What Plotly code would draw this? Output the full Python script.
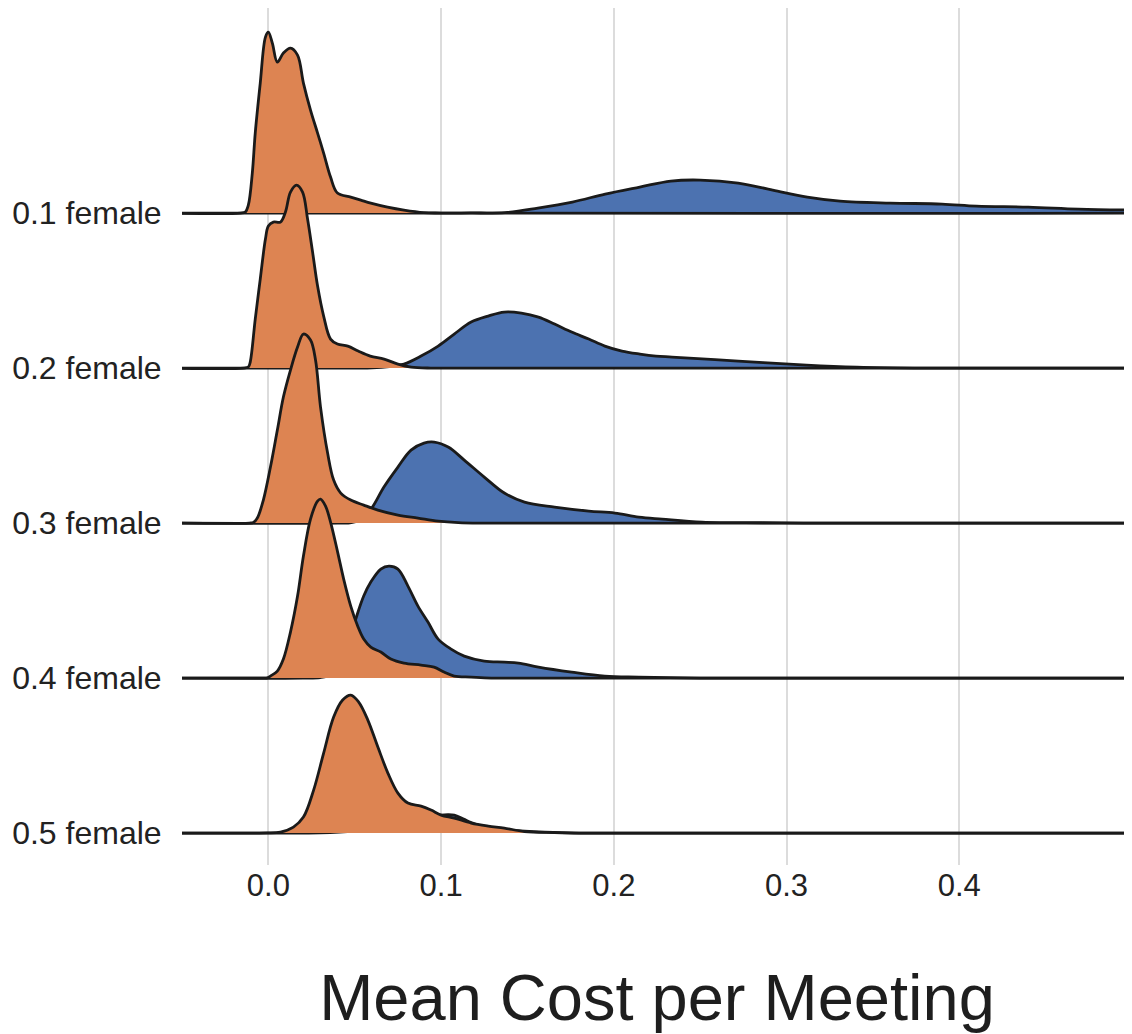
import plotly.graph_objects as go

# ---------------- data ----------------
row_labels = ["0.1 female", "0.2 female", "0.3 female", "0.4 female", "0.5 female"]
x_ticks = [0.0, 0.1, 0.2, 0.3, 0.4]
x_tick_text = ["0.0", "0.1", "0.2", "0.3", "0.4"]

# orange group (density, arbitrary units)
x1o = [-0.06, -0.016, -0.0134, -0.0116, -0.0093, -0.0076, -0.0047, -0.0017, 0.0, 0.0023, 0.0052, 0.0087, 0.0128,
       0.0169, 0.0203, 0.0244, 0.0285, 0.032, 0.036, 0.040, 0.0477, 0.0535, 0.0593, 0.069, 0.0785, 0.09, 0.1, 0.56]
d1o = [0, 0, 0.1, 0.8, 4.0, 8.0, 13.0, 17.6, 18.1, 17.0, 15.1, 16.0, 16.5,
       15.8, 13.0, 10.3, 8.0, 6.0, 3.6, 2.0, 1.6, 1.3, 1.0, 0.6, 0.3, 0.05, 0, 0]
x2o = [-0.06, -0.014, -0.0116, -0.0105, -0.0076, -0.0047, -0.0017, 0.0, 0.0029, 0.007, 0.0099, 0.0128, 0.0163,
       0.0198, 0.0227, 0.0256, 0.0285, 0.032, 0.036, 0.040, 0.046, 0.052, 0.059, 0.067, 0.075, 0.0826, 0.094,
       0.11, 0.56]
d2o = [0, 0, 0.1, 0.6, 4.9, 8.9, 12.9, 14.2, 14.6, 14.6, 15.6, 17.6, 18.3,
       17.6, 14.9, 11.6, 8.2, 5.2, 2.9, 2.4, 2.2, 1.7, 1.2, 0.9, 0.4, 0.1, 0,
       0, 0]
x3o = [-0.06, -0.011, -0.0087, -0.0064, -0.0029, 0.0012, 0.0052, 0.0087, 0.0128, 0.0169, 0.0203, 0.0244, 0.0273,
       0.0302, 0.0343, 0.0378, 0.0419, 0.0477, 0.0552, 0.0634, 0.075, 0.0866, 0.0983, 0.11, 0.123, 0.14, 0.56]
d3o = [0, 0, 0.05, 0.5, 2.3, 5.6, 9.3, 12.6, 15.3, 17.6, 18.9, 18.3, 16.3,
       11.6, 7.0, 4.3, 3.0, 2.3, 1.8, 1.3, 0.8, 0.5, 0.2, 0.05, 0, 0, 0]
x4o = [-0.06, -0.004, -0.0006, 0.0012, 0.0052, 0.0087, 0.0128, 0.0169, 0.0203, 0.0244, 0.0285, 0.0302, 0.0331,
       0.036, 0.0401, 0.0436, 0.0477, 0.0517, 0.0552, 0.0593, 0.0651, 0.0709, 0.0785, 0.0884, 0.0959, 0.1017,
       0.1076, 0.1174, 0.129, 0.145, 0.56]
d4o = [0, 0, 0.02, 0.2, 0.7, 1.9, 4.6, 8.2, 12.2, 15.9, 17.7, 17.9, 17.2,
       15.6, 12.6, 9.9, 7.2, 5.2, 3.9, 3.1, 2.6, 1.9, 1.5, 1.3, 1.1, 0.6,
       0.2, 0.1, 0, 0, 0]
x5o = [-0.06, -0.01, -0.0006, 0.007, 0.0145, 0.0203, 0.0262, 0.032, 0.0378, 0.043, 0.0477, 0.0523, 0.0576,
       0.0634, 0.0692, 0.075, 0.0808, 0.0884, 0.0942, 0.1, 0.1076, 0.1174, 0.1273, 0.1366, 0.1483, 0.1657,
       0.18, 0.2, 0.56]
d5o = [0, 0, 0.01, 0.1, 0.6, 1.6, 4.3, 8.0, 11.6, 13.3, 13.8, 13.1, 11.3,
       8.6, 6.0, 4.0, 3.0, 2.7, 2.3, 1.8, 1.5, 1.0, 0.7, 0.5, 0.15, 0.05,
       0, 0, 0]

# blue group (density, arbitrary units)
x1b = [-0.06, 0.10, 0.117, 0.137, 0.156, 0.176, 0.195, 0.215, 0.233, 0.25, 0.272, 0.292, 0.312, 0.331,
       0.36, 0.39, 0.41, 0.44, 0.469, 0.5, 0.53]
d1b = [0, 0, 0.01, 0.05, 0.5, 1.1, 1.9, 2.6, 3.2, 3.3, 3.0, 2.3, 1.6, 1.2,
       1.0, 0.9, 0.7, 0.6, 0.4, 0.3, 0.25]
x2b = [-0.06, 0.05, 0.060, 0.070, 0.0785, 0.0884, 0.0983, 0.1076, 0.1174, 0.1273, 0.1366, 0.1465, 0.1564,
       0.1657, 0.1756, 0.1855, 0.1948, 0.2047, 0.2151, 0.2244, 0.2337, 0.2721, 0.3116, 0.3407, 0.38, 0.42, 0.56]
d2b = [0, 0, 0.02, 0.15, 0.4, 1.2, 2.2, 3.4, 4.6, 5.2, 5.6, 5.5, 5.1,
       4.4, 3.6, 2.9, 2.2, 1.7, 1.4, 1.2, 1.1, 0.7, 0.3, 0.1, 0, 0, 0]
x3b = [-0.06, 0.04, 0.048, 0.056, 0.061, 0.0669, 0.075, 0.0826, 0.0901, 0.096, 0.1041, 0.1134, 0.125, 0.1366,
       0.1483, 0.1657, 0.1855, 0.2006, 0.2145, 0.2279, 0.2512, 0.286, 0.31, 0.35, 0.56]
d3b = [0, 0, 0.05, 0.6, 1.8, 3.6, 5.6, 7.3, 8.0, 8.1, 7.6, 6.3, 4.6, 3.0,
       2.1, 1.6, 1.2, 1.0, 0.6, 0.4, 0.1, 0.03, 0, 0, 0]
x4b = [-0.06, 0.02, 0.030, 0.036, 0.040, 0.0436, 0.0477, 0.0506, 0.0552, 0.0593, 0.0651, 0.0698, 0.075, 0.0808,
       0.0866, 0.0924, 0.0983, 0.1058, 0.1134, 0.125, 0.1366, 0.1448, 0.1564, 0.1756, 0.1948, 0.2145, 0.25,
       0.3, 0.56]
d4b = [0, 0, 0.05, 0.3, 1.0, 2.5, 4.2, 5.9, 8.2, 9.6, 10.9, 11.2, 10.9, 9.2,
       7.2, 5.6, 3.9, 2.9, 2.2, 1.7, 1.6, 1.5, 1.1, 0.6, 0.2, 0.1, 0,
       0, 0]
x5b = [-0.06, 0.02, 0.03, 0.05, 0.07, 0.09, 0.1, 0.104, 0.1076, 0.113, 0.1174, 0.125, 0.14, 0.16, 0.18, 0.2, 0.56]
d5b = [0, 0, 0.02, 0.2, 0.6, 1.4, 1.8, 1.85, 1.8, 1.4, 1.05, 0.6, 0.3, 0.1, 0, 0, 0]

orange_x = [x1o, x2o, x3o, x4o, x5o]
orange_d = [d1o, d2o, d3o, d4o, d5o]
blue_x = [x1b, x2b, x3b, x4b, x5b]
blue_d = [d1b, d2b, d3b, d4b, d5b]

# ---------------- styling ----------------
ORANGE = "#DD8452"
BLUE = "#4C72B0"
OUTLINE = "#1a1a1a"
SCALE = 10.0 / 155.0   # density units -> row spacing units
FONT = "Liberation Sans, Arial, sans-serif"

fig = go.Figure()
n = len(row_labels)
for i in range(n):
    base = n - 1 - i
    for xs, ds, col in ((blue_x[i], blue_d[i], BLUE), (orange_x[i], orange_d[i], ORANGE)):
        px = list(xs) + [xs[-1]]
        py = [base + d * SCALE for d in ds] + [base]
        fig.add_trace(go.Scatter(
            x=px, y=py, mode="lines", fill="toself", fillcolor=col,
            line=dict(color=OUTLINE, width=2.8, shape="spline", smoothing=1.0),
            hoverinfo="skip", showlegend=False))

fig.update_layout(
    width=1124, height=1026,
    margin=dict(l=174, r=0, t=0, b=169),
    paper_bgcolor="white", plot_bgcolor="white",
    font=dict(family=FONT, color="#1e1e1e"),
)
fig.update_xaxes(
    range=[-0.05, 0.5], tickvals=x_ticks, ticktext=x_tick_text,
    showgrid=True, gridcolor="#dcdcdc", gridwidth=1.5, zeroline=False,
    showline=False, ticks="", ticklabelstandoff=-1,
    tickfont=dict(size=31, family=FONT, color="#222222"),
    title=dict(text="Mean Cost per Meeting", font=dict(size=65, family=FONT, color="#1e1e1e"), standoff=72),
)
fig.update_yaxes(
    range=[-0.206, 5.323], tickvals=list(range(n - 1, -1, -1)), ticktext=row_labels,
    showgrid=False, zeroline=False, showline=False,
    ticks="outside", ticklen=13, tickcolor="rgba(0,0,0,0)",
    tickfont=dict(size=32, family=FONT, color="#222222"),
)

fig.write_html("out.html")
